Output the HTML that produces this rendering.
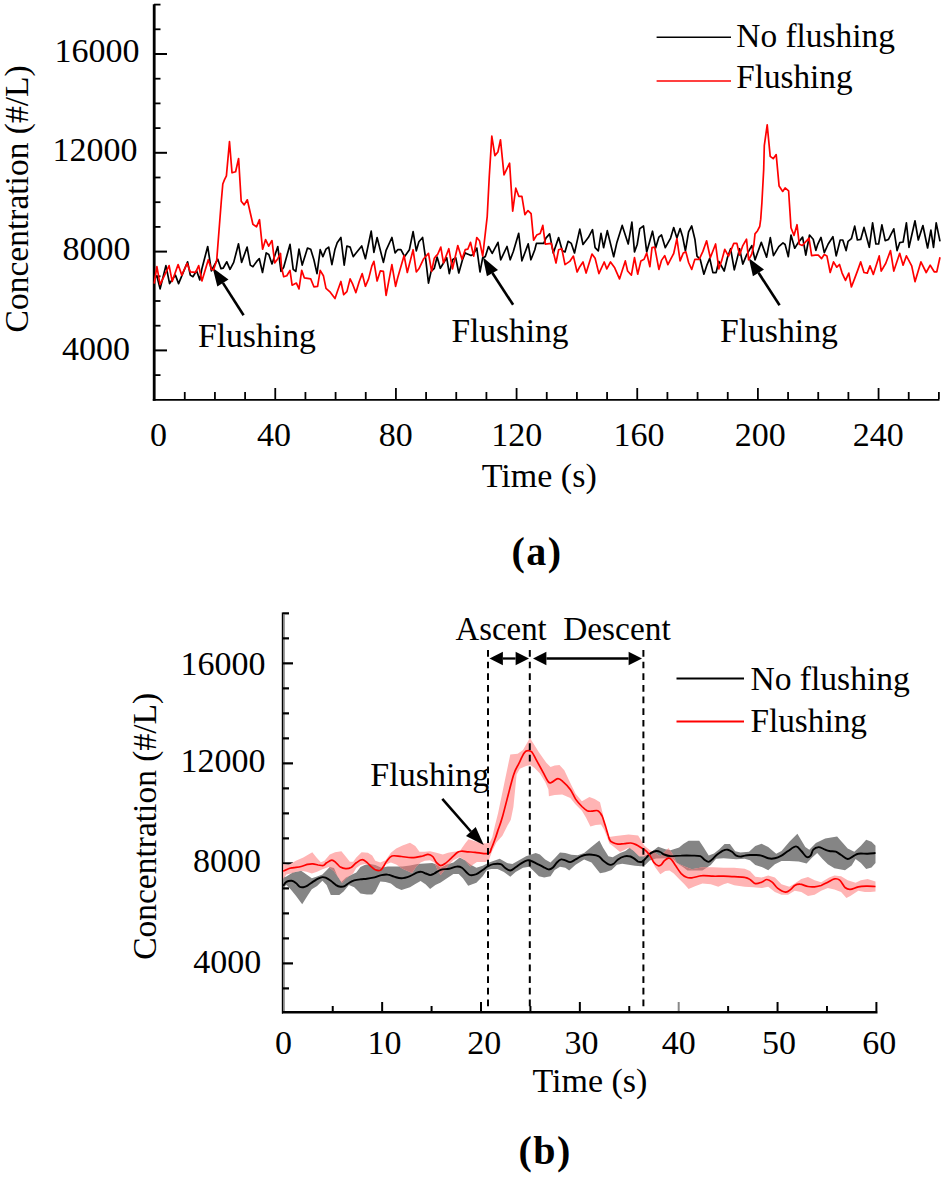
<!DOCTYPE html>
<html><head><meta charset="utf-8"><style>
html,body{margin:0;padding:0;background:#fff;width:944px;height:1178px;overflow:hidden;}
svg{display:block;}
</style></head><body>
<svg width="944" height="1178" viewBox="0 0 944 1178">
<g id="axa" stroke="#000" fill="none">
<line x1="154.2" y1="4.3" x2="154.2" y2="400.7" stroke-width="2.8"/>
<line x1="152.8" y1="399.85" x2="939.5" y2="399.85" stroke-width="1.8"/>
<line x1="154" y1="375.10" x2="160.50" y2="375.10" stroke-width="1.8"/>
<line x1="154" y1="350.40" x2="167.00" y2="350.40" stroke-width="2.0"/>
<line x1="154" y1="325.70" x2="160.50" y2="325.70" stroke-width="1.8"/>
<line x1="154" y1="301.00" x2="160.50" y2="301.00" stroke-width="1.8"/>
<line x1="154" y1="276.30" x2="160.50" y2="276.30" stroke-width="1.8"/>
<line x1="154" y1="251.60" x2="167.00" y2="251.60" stroke-width="2.0"/>
<line x1="154" y1="226.90" x2="160.50" y2="226.90" stroke-width="1.8"/>
<line x1="154" y1="202.20" x2="160.50" y2="202.20" stroke-width="1.8"/>
<line x1="154" y1="177.50" x2="160.50" y2="177.50" stroke-width="1.8"/>
<line x1="154" y1="152.80" x2="167.00" y2="152.80" stroke-width="2.0"/>
<line x1="154" y1="128.10" x2="160.50" y2="128.10" stroke-width="1.8"/>
<line x1="154" y1="103.40" x2="160.50" y2="103.40" stroke-width="1.8"/>
<line x1="154" y1="78.70" x2="160.50" y2="78.70" stroke-width="1.8"/>
<line x1="154" y1="54.00" x2="167.00" y2="54.00" stroke-width="2.0"/>
<line x1="154" y1="29.30" x2="160.50" y2="29.30" stroke-width="1.8"/>
<line x1="154" y1="4.60" x2="160.50" y2="4.60" stroke-width="1.8"/>
<line x1="184.76" y1="399" x2="184.76" y2="392.00" stroke-width="1.8"/>
<line x1="214.93" y1="399" x2="214.93" y2="392.00" stroke-width="1.8"/>
<line x1="245.09" y1="399" x2="245.09" y2="392.00" stroke-width="1.8"/>
<line x1="275.26" y1="399" x2="275.26" y2="388.00" stroke-width="1.8"/>
<line x1="305.43" y1="399" x2="305.43" y2="392.00" stroke-width="1.8"/>
<line x1="335.59" y1="399" x2="335.59" y2="392.00" stroke-width="1.8"/>
<line x1="365.75" y1="399" x2="365.75" y2="392.00" stroke-width="1.8"/>
<line x1="395.92" y1="399" x2="395.92" y2="388.00" stroke-width="1.8"/>
<line x1="426.09" y1="399" x2="426.09" y2="392.00" stroke-width="1.8"/>
<line x1="456.25" y1="399" x2="456.25" y2="392.00" stroke-width="1.8"/>
<line x1="486.41" y1="399" x2="486.41" y2="392.00" stroke-width="1.8"/>
<line x1="516.58" y1="399" x2="516.58" y2="388.00" stroke-width="1.8"/>
<line x1="546.75" y1="399" x2="546.75" y2="392.00" stroke-width="1.8"/>
<line x1="576.91" y1="399" x2="576.91" y2="392.00" stroke-width="1.8"/>
<line x1="607.08" y1="399" x2="607.08" y2="392.00" stroke-width="1.8"/>
<line x1="637.24" y1="399" x2="637.24" y2="388.00" stroke-width="1.8"/>
<line x1="667.41" y1="399" x2="667.41" y2="392.00" stroke-width="1.8"/>
<line x1="697.57" y1="399" x2="697.57" y2="392.00" stroke-width="1.8"/>
<line x1="727.74" y1="399" x2="727.74" y2="392.00" stroke-width="1.8"/>
<line x1="757.90" y1="399" x2="757.90" y2="388.00" stroke-width="1.8"/>
<line x1="788.07" y1="399" x2="788.07" y2="392.00" stroke-width="1.8"/>
<line x1="818.23" y1="399" x2="818.23" y2="392.00" stroke-width="1.8"/>
<line x1="848.40" y1="399" x2="848.40" y2="392.00" stroke-width="1.8"/>
<line x1="878.56" y1="399" x2="878.56" y2="388.00" stroke-width="1.8"/>
<line x1="908.73" y1="399" x2="908.73" y2="392.00" stroke-width="1.8"/>
<line x1="938.89" y1="399" x2="938.89" y2="392.00" stroke-width="1.8"/>
</g>
<g font-family="Liberation Serif, serif" font-size="34" fill="#000" text-anchor="middle">
<text x="97.10" y="61.7">16000</text>
<text x="95.10" y="161.0">12000</text>
<text x="96.55" y="260.2">8000</text>
<text x="96.05" y="359.9">4000</text>
<text x="158.50" y="446.0">0</text>
<text x="273.90" y="446.0">40</text>
<text x="395.85" y="446.0">80</text>
<text x="516.80" y="446.0">120</text>
<text x="638.95" y="446.0">160</text>
<text x="760.25" y="446.0">200</text>
<text x="878.25" y="446.0">240</text>
<text x="223.05" y="675.2">16000</text>
<text x="223.05" y="772.0">12000</text>
<text x="227.05" y="872.0">8000</text>
<text x="227.20" y="972.7">4000</text>
<text x="283.55" y="1054.2">0</text>
<text x="384.45" y="1054.2">10</text>
<text x="484.15" y="1053.5">20</text>
<text x="581.40" y="1053.5">30</text>
<text x="678.65" y="1053.5">40</text>
<text x="779.00" y="1054.3">50</text>
<text x="879.25" y="1054.3">60</text>
</g>
<text font-family="Liberation Serif, serif" font-size="34" x="539.25" y="487.1" text-anchor="middle">Time (s)</text>
<text font-family="Liberation Serif, serif" font-size="33.5" transform="translate(27.8,198.9) rotate(-90)" text-anchor="middle">Concentration (#/L)</text>
<text font-family="Liberation Serif, serif" font-size="40" font-weight="bold" letter-spacing="1.5" x="537.0" y="564.9" text-anchor="middle">(a)</text>
<line x1="656.6" y1="37.2" x2="731" y2="37.2" stroke="#000" stroke-width="1.5"/>
<line x1="656.6" y1="80.9" x2="731" y2="80.9" stroke="#f00" stroke-width="1.5"/>
<text font-family="Liberation Serif, serif" font-size="33.4" x="736.3" y="47.2">No flushing</text>
<text font-family="Liberation Serif, serif" font-size="33.2" x="736.3" y="87.8">Flushing</text>
<line x1="243.6" y1="315.2" x2="222.9" y2="282.9" stroke="#000" stroke-width="2.6"/><polygon points="212.6,267.8 217.3,286.5 228.5,279.4" fill="#000"/>
<line x1="513.1" y1="304.8" x2="492.4" y2="273.0" stroke="#000" stroke-width="2.6"/><polygon points="482.9,257.2 486.9,276.2 498,269.9" fill="#000"/>
<line x1="779.6" y1="305.2" x2="758.5" y2="272.8" stroke="#000" stroke-width="2.6"/><polygon points="748.9,258.3 752.9,276.2 764,269.4" fill="#000"/>
<text font-family="Liberation Serif, serif" font-size="33.7" x="197.9" y="346.5">Flushing</text>
<text font-family="Liberation Serif, serif" font-size="33.4" x="451.5" y="342.2">Flushing</text>
<text font-family="Liberation Serif, serif" font-size="33.7" x="719.9" y="341.7">Flushing</text>
<polyline points="154.8,277.2 156.9,276.1 160.1,288.9 165.9,265.6 169.6,283.6 175.4,275.1 178.6,283.6 187.6,261.8 190.3,275.1 192.9,276.7 196.6,270.8 199.8,279.9 201.9,268.7 207.7,246.5 211.4,270.8 213.0,267.7 217.8,259.2 221.0,268.7 223.1,268.2 226.8,261.8 230.0,269.3 233.7,262.4 238.5,243.8 241.6,262.4 247.1,247.1 250.3,265.1 252.9,266.7 256.7,261.4 259.3,258.7 262.5,272.5 266.2,252.9 268.8,254.5 272.0,264.0 277.8,246.5 281.0,271.4 283.7,267.2 290.0,244.4 293.2,269.3 295.8,271.4 299.0,249.2 302.2,265.1 307.5,248.1 310.7,249.2 313.9,259.8 317.0,273.6 320.2,249.7 322.9,256.6 326.0,249.2 328.7,247.1 331.9,264.6 335.0,249.2 337.2,242.8 340.9,237.5 344.2,265.1 346.9,246.0 350.1,247.1 353.2,256.6 359.1,249.2 361.7,246.0 365.4,258.7 371.2,231.2 373.9,252.4 377.1,237.5 383.4,262.4 386.1,250.3 391.9,237.5 395.1,252.9 397.7,249.7 400.9,249.7 404.6,256.6 409.4,249.7 413.1,231.7 416.3,250.8 418.9,241.8 422.6,237.5 425.8,259.8 428.5,283.1 431.1,271.4 434.3,268.3 436.9,257.7 437.1,257.1 440.3,268.3 442.9,264.0 446.7,257.7 449.3,273.6 452.5,259.8 455.7,257.7 458.8,273.0 462.5,259.8 465.2,252.9 471.0,255.6 473.1,254.5 476.8,248.1 480.0,272.0 482.7,257.7 485.3,256.6 488.5,246.5 492.2,253.4 498.0,242.3 500.7,259.8 507.0,246.5 510.2,259.8 513.4,251.3 518.7,233.3 521.9,260.8 528.2,243.9 530.9,259.8 534.8,249.8 536.4,243.4 543.8,243.4 545.9,238.1 549.6,233.9 553.3,253.0 558.6,237.6 562.3,250.8 565.0,251.9 568.1,241.3 571.3,243.4 574.5,253.0 579.8,229.1 583.0,244.5 588.3,237.6 592.5,229.7 595.1,247.7 598.3,250.8 601.0,233.4 603.6,247.7 607.3,230.7 613.7,256.7 616.9,242.4 622.2,225.4 628.2,244.0 631.9,222.2 634.5,251.9 637.2,244.5 639.8,228.6 643.5,226.0 646.7,251.9 649.4,242.4 652.5,231.2 655.7,247.7 658.9,237.1 661.5,235.0 665.3,247.7 670.6,238.1 673.7,227.5 676.9,238.1 680.1,228.6 682.7,237.1 685.4,250.8 688.6,231.8 691.7,226.0 694.9,239.2 697.0,256.1 700.2,259.3 703.9,274.2 707.1,264.6 709.7,258.3 712.9,272.6 716.1,272.6 718.8,261.4 724.2,271.0 727.4,257.7 730.6,248.7 734.3,269.9 739.6,248.7 742.8,264.1 746.5,255.1 751.8,245.6 755.0,259.9 761.3,242.4 766.6,257.2 770.3,237.6 773.5,255.6 778.8,246.6 783.0,242.9 785.1,244.5 788.3,256.7 791.0,235.0 794.7,248.2 798.4,242.4 802.6,237.1 805.8,255.1 809.5,235.0 813.2,239.2 815.9,250.3 817.6,244.7 821.0,237.4 824.3,252.6 828.2,244.0 832.9,236.7 836.2,255.9 840.2,240.0 842.8,240.0 846.1,250.6 848.1,241.3 851.4,238.7 854.7,226.1 857.4,240.0 860.7,239.4 864.0,227.4 869.3,247.3 872.6,222.8 875.9,244.0 878.6,244.0 881.9,224.8 885.2,240.7 888.5,239.4 890.5,235.4 893.8,228.8 897.1,250.6 899.7,242.7 903.1,242.0 906.4,222.8 909.0,247.3 915.0,220.8 918.3,240.0 922.9,225.5 927.6,248.0 930.9,230.1 933.5,247.3 936.2,222.8 940.0,241.3" fill="none" stroke="#000" stroke-width="1.7" stroke-linejoin="round"/>
<polyline points="154.2,283.6 156.9,266.6 160.1,284.6 169.1,265.6 172.2,281.4 178.1,264.5 181.8,275.1 187.1,263.4 190.3,271.9 195.6,272.4 198.7,265.6 201.9,280.9 208.3,259.7 211.4,269.3 213.6,269.8 216.7,260.3 221.3,201.3 222.8,184.0 224.4,179.9 226.4,175.9 229.5,141.7 232.0,172.8 235.6,171.8 238.6,158.5 241.2,201.3 244.2,204.9 247.3,199.8 252.9,224.3 256.5,226.8 259.5,219.7 262.6,249.2 265.6,239.6 268.7,246.2 271.8,240.6 272.0,240.7 274.7,263.0 277.8,258.7 280.5,253.4 281.5,267.2 283.7,276.7 286.8,275.7 290.0,270.4 292.1,285.2 296.4,283.1 299.0,288.9 301.7,270.4 304.3,277.8 310.7,278.9 313.9,286.8 317.6,286.3 320.2,270.4 323.4,275.7 326.0,288.4 329.7,291.6 335.0,298.5 337.7,290.5 340.9,281.5 343.7,294.7 346.9,291.6 350.1,278.9 352.7,284.2 355.9,292.6 359.1,282.0 362.2,273.6 365.4,286.3 368.6,278.9 371.8,266.1 373.9,261.4 377.1,281.0 380.3,270.9 383.4,271.4 386.1,295.3 391.9,264.6 395.6,286.3 397.7,277.8 404.1,255.6 407.3,272.5 413.1,249.7 416.3,272.0 418.9,268.8 423.7,258.7 428.5,253.4 431.6,271.4 434.3,258.2 436.4,255.6 437.6,254.5 440.8,247.1 443.5,263.0 448.8,248.7 452.5,268.8 457.8,245.5 462.0,259.3 465.2,249.7 467.8,249.2 470.5,242.3 473.7,256.1 476.8,237.5 479.5,240.7 482.7,256.1 487.2,216.7 489.3,176.0 491.8,136.2 494.9,155.6 497.9,152.0 500.5,139.8 504.0,174.9 509.6,163.2 512.7,211.1 515.8,188.2 518.8,196.3 521.9,196.3 524.9,214.7 528.0,210.6 531.1,213.7 533.6,240.2 536.7,235.1 540.2,233.5 542.8,225.4 545.3,244.2 551.2,243.4 556.0,263.0 558.6,249.8 561.8,248.7 565.0,264.6 569.7,261.4 573.4,256.1 577.1,272.0 579.8,266.7 583.0,262.0 586.1,273.1 592.0,254.0 595.1,258.3 598.9,273.6 604.2,262.0 606.8,268.9 610.5,262.0 614.7,267.8 619.5,278.9 625.3,260.9 627.6,271.0 631.4,275.2 634.5,257.7 637.7,274.2 640.9,260.9 644.1,259.3 646.7,253.0 649.9,266.7 652.0,247.7 654.7,247.1 658.9,269.4 661.5,260.4 664.7,255.6 667.9,264.6 670.6,259.3 673.7,253.5 676.9,238.7 680.1,260.9 683.3,253.0 685.9,251.9 688.6,262.5 691.7,269.4 694.9,259.3 699.2,259.3 702.9,251.4 706.6,240.8 710.3,257.7 715.6,244.0 718.8,268.9 721.9,259.9 724.8,249.3 728.5,256.1 733.8,243.4 736.9,243.4 739.6,255.1 742.8,245.6 746.5,239.2 748.6,259.9 751.8,254.0 753.9,244.5 755.0,233.9 757.6,230.7 759.7,226.5 760.7,219.4 761.9,202.7 763.7,169.4 764.3,145.7 767.2,124.9 770.2,156.4 773.2,158.7 776.2,154.6 779.1,186.1 782.7,191.4 785.1,187.9 788.6,190.8 791.0,227.7 794.0,235.4 797.0,224.7 799.3,244.3 802.3,245.5 809.0,238.1 811.6,255.6 815.3,255.1 818.3,255.2 821.6,258.6 824.3,254.6 826.9,255.9 830.2,272.5 833.5,261.9 836.8,267.2 839.5,264.5 842.1,273.1 845.5,280.4 848.8,273.1 851.4,287.0 854.7,278.4 857.4,271.1 860.7,261.9 864.0,272.5 867.3,273.1 870.0,265.8 873.3,274.4 879.2,255.9 881.2,271.1 885.8,263.2 890.5,250.6 893.8,271.1 899.7,253.3 903.1,265.2 906.4,255.9 911.7,265.8 915.0,281.7 920.9,261.9 926.2,272.5 930.2,265.2 934.2,271.8 936.8,271.8 940.0,257.2" fill="none" stroke="#f00" stroke-width="1.7" stroke-linejoin="round"/>
<g id="axb" stroke="#000" fill="none">
<rect x="281.8" y="612.4" width="1.2" height="401.2" fill="#000" stroke="none"/>
<rect x="283.0" y="614.5" width="1.8" height="397" fill="#888" stroke="none"/>
<line x1="282" y1="1012.3" x2="877.5" y2="1012.3" stroke-width="2.5"/>
<line x1="283" y1="988.40" x2="289.00" y2="988.40" stroke-width="2.2"/>
<line x1="283" y1="963.40" x2="293.00" y2="963.40" stroke-width="2.2"/>
<line x1="283" y1="938.40" x2="289.00" y2="938.40" stroke-width="2.2"/>
<line x1="283" y1="913.39" x2="289.00" y2="913.39" stroke-width="2.2"/>
<line x1="283" y1="888.39" x2="289.00" y2="888.39" stroke-width="2.2"/>
<line x1="283" y1="863.38" x2="293.00" y2="863.38" stroke-width="2.2"/>
<line x1="283" y1="838.38" x2="289.00" y2="838.38" stroke-width="2.2"/>
<line x1="283" y1="813.38" x2="289.00" y2="813.38" stroke-width="2.2"/>
<line x1="283" y1="788.37" x2="289.00" y2="788.37" stroke-width="2.2"/>
<line x1="283" y1="763.37" x2="293.00" y2="763.37" stroke-width="2.2"/>
<line x1="283" y1="738.36" x2="289.00" y2="738.36" stroke-width="2.2"/>
<line x1="283" y1="713.36" x2="289.00" y2="713.36" stroke-width="2.2"/>
<line x1="283" y1="688.36" x2="289.00" y2="688.36" stroke-width="2.2"/>
<line x1="283" y1="663.35" x2="293.00" y2="663.35" stroke-width="2.2"/>
<line x1="283" y1="638.35" x2="289.00" y2="638.35" stroke-width="2.2"/>
<line x1="283" y1="613.34" x2="289.00" y2="613.34" stroke-width="2.2"/>
<line x1="332.73" y1="1011" x2="332.73" y2="1006.00" stroke-width="2"/>
<line x1="382.15" y1="1011" x2="382.15" y2="1002.00" stroke-width="2"/>
<line x1="431.58" y1="1011" x2="431.58" y2="1006.00" stroke-width="2"/>
<line x1="481.00" y1="1011" x2="481.00" y2="1002.00" stroke-width="2"/>
<line x1="530.42" y1="1011" x2="530.42" y2="1006.00" stroke-width="2"/>
<line x1="579.85" y1="1011" x2="579.85" y2="1002.00" stroke-width="2"/>
<line x1="629.27" y1="1011" x2="629.27" y2="1006.00" stroke-width="2"/>
<line x1="678.70" y1="1011" x2="678.70" y2="1002.00" stroke-width="2" stroke="#888"/>
<line x1="728.12" y1="1011" x2="728.12" y2="1006.00" stroke-width="2"/>
<line x1="777.55" y1="1011" x2="777.55" y2="1002.00" stroke-width="2"/>
<line x1="826.97" y1="1011" x2="826.97" y2="1006.00" stroke-width="2"/>
<line x1="876.40" y1="1011" x2="876.40" y2="1002.00" stroke-width="2"/>
</g>
<text font-family="Liberation Serif, serif" font-size="34" x="589.9" y="1091.6" text-anchor="middle">Time (s)</text>
<text font-family="Liberation Serif, serif" font-size="33.5" transform="translate(155.7,826.35) rotate(-90)" text-anchor="middle">Concentration (#/L)</text>
<text font-family="Liberation Serif, serif" font-size="40" font-weight="bold" letter-spacing="1.5" x="545.2" y="1163.9" text-anchor="middle">(b)</text>
<line x1="676.5" y1="678.4" x2="744" y2="678.4" stroke="#000" stroke-width="2"/>
<line x1="676.5" y1="721.6" x2="744" y2="721.6" stroke="#f00" stroke-width="2"/>
<text font-family="Liberation Serif, serif" font-size="33.6" x="750.4" y="689.9">No flushing</text>
<text font-family="Liberation Serif, serif" font-size="33.3" x="750.4" y="732.1">Flushing</text>
<defs><clipPath id="gclip"><polygon points="283.2,877.7 286.4,876.6 292.7,872.4 301.2,870.8 306.5,874.5 311.8,878.2 317.1,876.6 322.4,874.5 329.8,867.1 334.0,868.1 337.2,875.6 341.4,881.9 345.7,877.7 352.0,874.5 356.3,872.4 360.5,867.1 364.7,865.0 370.0,863.9 375.3,865.0 381.4,867.7 387.7,866.6 396.2,866.6 402.5,866.6 410.0,865.6 417.4,864.0 424.8,863.4 432.2,862.9 436.4,864.5 440.7,867.7 447.0,864.5 453.4,862.4 459.7,857.6 465.0,860.3 470.3,864.5 476.4,867.8 482.7,865.7 489.1,862.5 499.7,858.8 507.1,863.1 512.4,864.1 517.7,861.0 526.1,856.2 535.7,853.0 539.9,854.6 545.2,859.4 550.5,862.5 554.7,858.3 560.0,852.5 565.3,853.0 571.4,854.7 577.7,855.2 584.1,853.1 590.4,847.8 599.4,840.4 603.1,847.8 608.4,856.3 612.7,857.3 620.1,853.1 625.4,851.0 629.6,847.8 633.9,851.0 639.2,856.3 643.4,856.3 648.7,854.2 654.0,849.9 658.2,846.7 665.3,849.2 670.6,850.3 679.1,847.6 683.3,843.9 688.6,840.7 699.2,840.7 703.4,847.1 708.7,855.6 714.0,853.4 719.3,849.2 724.6,843.9 729.9,843.9 735.2,851.3 740.5,852.4 749.0,851.8 755.3,846.0 761.6,843.8 768.2,847.1 776.2,853.7 781.5,851.0 789.4,841.8 797.4,833.8 805.3,847.1 809.3,849.7 815.9,843.1 825.2,838.5 837.1,836.5 842.4,842.4 847.7,848.4 854.3,851.7 860.9,845.8 866.2,839.8 871.5,841.8 875.5,845.8 875.5,863.0 871.5,867.6 866.2,868.9 860.9,863.0 855.6,859.0 851.7,865.6 845.0,870.2 834.4,868.3 827.8,864.3 822.5,859.0 817.2,853.0 811.9,857.7 806.6,863.6 798.7,861.6 789.4,861.0 781.5,861.0 774.9,864.3 768.2,870.2 761.6,866.9 755.3,865.1 750.0,860.3 744.7,858.7 736.3,859.3 729.9,858.7 723.6,858.2 716.1,858.7 710.8,865.1 706.6,867.7 702.4,870.4 687.5,870.4 683.3,867.2 676.9,863.0 672.7,858.7 666.4,858.2 656.1,858.4 649.7,860.5 645.5,864.7 641.3,866.3 634.9,865.8 628.6,864.7 622.2,863.7 616.9,864.7 611.6,870.0 605.3,872.2 600.0,873.2 591.5,862.6 584.1,859.4 575.6,864.7 569.2,870.6 565.3,867.8 560.0,866.8 554.7,870.0 550.5,876.3 544.2,877.4 538.9,876.3 533.6,871.0 529.3,866.8 523.0,867.8 515.6,872.1 510.3,876.8 503.9,872.1 497.5,868.9 491.2,868.9 486.9,870.0 482.7,876.3 476.4,882.7 468.2,885.7 462.9,878.3 458.7,874.0 453.4,874.0 447.0,878.3 440.7,882.5 435.4,885.1 430.1,888.9 425.8,884.6 420.6,880.9 415.3,884.1 410.0,887.3 401.5,889.9 396.2,887.8 390.9,883.6 385.6,882.0 380.3,881.4 375.3,891.4 372.2,894.6 366.9,894.6 360.5,893.6 354.2,887.2 348.9,885.1 343.6,891.4 339.3,895.1 330.8,895.1 326.6,885.1 322.4,880.8 317.1,886.1 311.8,889.3 307.5,895.7 302.2,904.2 295.9,895.7 290.6,889.3 286.4,885.1 283.2,887.2"/></clipPath></defs>
<polygon points="283.2,877.7 286.4,876.6 292.7,872.4 301.2,870.8 306.5,874.5 311.8,878.2 317.1,876.6 322.4,874.5 329.8,867.1 334.0,868.1 337.2,875.6 341.4,881.9 345.7,877.7 352.0,874.5 356.3,872.4 360.5,867.1 364.7,865.0 370.0,863.9 375.3,865.0 381.4,867.7 387.7,866.6 396.2,866.6 402.5,866.6 410.0,865.6 417.4,864.0 424.8,863.4 432.2,862.9 436.4,864.5 440.7,867.7 447.0,864.5 453.4,862.4 459.7,857.6 465.0,860.3 470.3,864.5 476.4,867.8 482.7,865.7 489.1,862.5 499.7,858.8 507.1,863.1 512.4,864.1 517.7,861.0 526.1,856.2 535.7,853.0 539.9,854.6 545.2,859.4 550.5,862.5 554.7,858.3 560.0,852.5 565.3,853.0 571.4,854.7 577.7,855.2 584.1,853.1 590.4,847.8 599.4,840.4 603.1,847.8 608.4,856.3 612.7,857.3 620.1,853.1 625.4,851.0 629.6,847.8 633.9,851.0 639.2,856.3 643.4,856.3 648.7,854.2 654.0,849.9 658.2,846.7 665.3,849.2 670.6,850.3 679.1,847.6 683.3,843.9 688.6,840.7 699.2,840.7 703.4,847.1 708.7,855.6 714.0,853.4 719.3,849.2 724.6,843.9 729.9,843.9 735.2,851.3 740.5,852.4 749.0,851.8 755.3,846.0 761.6,843.8 768.2,847.1 776.2,853.7 781.5,851.0 789.4,841.8 797.4,833.8 805.3,847.1 809.3,849.7 815.9,843.1 825.2,838.5 837.1,836.5 842.4,842.4 847.7,848.4 854.3,851.7 860.9,845.8 866.2,839.8 871.5,841.8 875.5,845.8 875.5,863.0 871.5,867.6 866.2,868.9 860.9,863.0 855.6,859.0 851.7,865.6 845.0,870.2 834.4,868.3 827.8,864.3 822.5,859.0 817.2,853.0 811.9,857.7 806.6,863.6 798.7,861.6 789.4,861.0 781.5,861.0 774.9,864.3 768.2,870.2 761.6,866.9 755.3,865.1 750.0,860.3 744.7,858.7 736.3,859.3 729.9,858.7 723.6,858.2 716.1,858.7 710.8,865.1 706.6,867.7 702.4,870.4 687.5,870.4 683.3,867.2 676.9,863.0 672.7,858.7 666.4,858.2 656.1,858.4 649.7,860.5 645.5,864.7 641.3,866.3 634.9,865.8 628.6,864.7 622.2,863.7 616.9,864.7 611.6,870.0 605.3,872.2 600.0,873.2 591.5,862.6 584.1,859.4 575.6,864.7 569.2,870.6 565.3,867.8 560.0,866.8 554.7,870.0 550.5,876.3 544.2,877.4 538.9,876.3 533.6,871.0 529.3,866.8 523.0,867.8 515.6,872.1 510.3,876.8 503.9,872.1 497.5,868.9 491.2,868.9 486.9,870.0 482.7,876.3 476.4,882.7 468.2,885.7 462.9,878.3 458.7,874.0 453.4,874.0 447.0,878.3 440.7,882.5 435.4,885.1 430.1,888.9 425.8,884.6 420.6,880.9 415.3,884.1 410.0,887.3 401.5,889.9 396.2,887.8 390.9,883.6 385.6,882.0 380.3,881.4 375.3,891.4 372.2,894.6 366.9,894.6 360.5,893.6 354.2,887.2 348.9,885.1 343.6,891.4 339.3,895.1 330.8,895.1 326.6,885.1 322.4,880.8 317.1,886.1 311.8,889.3 307.5,895.7 302.2,904.2 295.9,895.7 290.6,889.3 286.4,885.1 283.2,887.2" fill="#858585"/>
<polygon points="283.2,863.9 288.5,865.0 295.9,860.7 303.3,857.5 312.3,852.2 316.5,857.5 320.8,862.3 324.5,860.7 329.8,854.4 335.1,852.2 341.4,851.2 345.7,856.5 349.9,861.8 353.1,861.8 356.3,857.5 361.6,852.2 367.9,852.8 372.2,855.4 375.3,860.7 380.3,862.4 385.6,860.3 390.9,852.8 396.2,848.6 402.5,845.4 410.0,842.8 415.3,846.0 419.5,851.8 424.8,851.8 430.1,851.2 436.4,852.8 442.8,854.4 448.1,852.8 453.4,851.8 459.7,851.2 465.1,843.4 468.5,839.2 476.9,841.7 485.4,843.4 489.7,842.5 492.2,837.5 494.7,826.4 498.1,812.9 510.3,754.4 517.7,753.8 523.0,750.1 529.9,737.9 533.6,743.8 538.9,752.2 546.3,762.8 550.5,767.1 554.7,765.5 559.5,765.0 564.3,770.3 571.4,785.3 575.6,793.8 581.9,801.2 589.4,796.9 594.7,799.1 600.0,802.2 603.1,815.0 607.4,837.2 615.8,836.1 628.6,834.6 638.1,835.6 641.3,840.4 644.4,845.7 649.7,849.9 655.0,853.1 660.3,856.3 668.5,848.1 671.7,852.4 676.9,863.0 681.2,865.1 686.5,867.2 691.8,869.3 702.4,867.2 713.0,867.2 723.6,867.7 734.2,867.7 744.7,868.8 750.0,870.9 755.3,876.7 761.6,877.5 768.2,875.5 774.9,877.5 781.5,884.2 789.4,886.8 794.7,883.5 801.3,878.9 808.0,876.9 814.6,880.2 821.2,882.2 829.2,877.5 834.4,875.5 841.1,876.2 847.7,880.2 855.6,882.8 860.9,880.2 867.6,878.9 875.5,881.5 875.5,891.4 870.2,892.1 864.9,892.1 858.3,890.8 850.3,896.1 846.4,898.1 841.1,892.1 834.4,889.4 827.8,888.1 821.2,890.8 814.6,894.7 808.0,896.1 801.3,892.1 794.7,890.8 788.1,894.7 781.5,894.7 774.9,892.1 768.2,886.8 761.6,888.1 753.2,887.3 744.7,886.8 734.2,885.2 727.8,883.1 723.6,884.2 718.3,886.8 710.8,884.2 702.4,883.6 695.0,886.3 688.6,888.9 684.4,884.2 679.1,878.9 673.8,873.6 669.5,870.4 665.3,870.9 660.3,874.3 655.0,866.9 649.7,856.3 643.4,856.3 639.2,856.3 632.8,849.9 628.6,847.8 624.3,849.9 620.1,852.0 613.7,846.7 609.5,843.6 604.2,829.8 601.0,824.5 595.7,825.0 590.4,826.6 586.2,818.1 581.9,810.7 575.6,804.4 570.3,798.0 562.2,794.6 554.7,795.1 548.9,796.2 548.4,789.3 545.2,781.9 539.9,773.4 534.6,768.1 530.4,765.0 526.1,766.0 519.8,768.7 516.6,774.5 515.1,790.0 513.4,806.9 510.8,819.7 507.5,825.6 502.4,835.8 496.4,842.5 492.2,851.0 488.8,860.3 485.4,862.0 476.9,862.0 470.3,866.6 465.0,860.3 459.7,857.1 453.4,860.3 448.1,865.6 443.9,870.8 440.7,875.1 437.5,869.8 434.3,862.4 430.1,860.3 424.8,860.8 420.6,862.4 416.3,866.6 412.1,873.0 402.5,868.7 396.2,864.5 390.9,862.4 385.6,864.5 381.4,869.8 373.2,868.1 369.0,865.0 364.7,863.9 360.5,865.0 356.3,868.1 353.1,873.4 349.9,875.6 345.7,878.7 342.0,883.0 339.3,878.7 334.0,871.3 328.7,867.1 322.4,869.2 317.1,871.8 311.8,873.4 306.5,871.8 301.2,870.8 295.9,871.8 290.6,873.4 286.4,874.5 283.2,878.7" fill="#ffb4b4"/>
<polygon points="283.2,863.9 288.5,865.0 295.9,860.7 303.3,857.5 312.3,852.2 316.5,857.5 320.8,862.3 324.5,860.7 329.8,854.4 335.1,852.2 341.4,851.2 345.7,856.5 349.9,861.8 353.1,861.8 356.3,857.5 361.6,852.2 367.9,852.8 372.2,855.4 375.3,860.7 380.3,862.4 385.6,860.3 390.9,852.8 396.2,848.6 402.5,845.4 410.0,842.8 415.3,846.0 419.5,851.8 424.8,851.8 430.1,851.2 436.4,852.8 442.8,854.4 448.1,852.8 453.4,851.8 459.7,851.2 465.1,843.4 468.5,839.2 476.9,841.7 485.4,843.4 489.7,842.5 492.2,837.5 494.7,826.4 498.1,812.9 510.3,754.4 517.7,753.8 523.0,750.1 529.9,737.9 533.6,743.8 538.9,752.2 546.3,762.8 550.5,767.1 554.7,765.5 559.5,765.0 564.3,770.3 571.4,785.3 575.6,793.8 581.9,801.2 589.4,796.9 594.7,799.1 600.0,802.2 603.1,815.0 607.4,837.2 615.8,836.1 628.6,834.6 638.1,835.6 641.3,840.4 644.4,845.7 649.7,849.9 655.0,853.1 660.3,856.3 668.5,848.1 671.7,852.4 676.9,863.0 681.2,865.1 686.5,867.2 691.8,869.3 702.4,867.2 713.0,867.2 723.6,867.7 734.2,867.7 744.7,868.8 750.0,870.9 755.3,876.7 761.6,877.5 768.2,875.5 774.9,877.5 781.5,884.2 789.4,886.8 794.7,883.5 801.3,878.9 808.0,876.9 814.6,880.2 821.2,882.2 829.2,877.5 834.4,875.5 841.1,876.2 847.7,880.2 855.6,882.8 860.9,880.2 867.6,878.9 875.5,881.5 875.5,891.4 870.2,892.1 864.9,892.1 858.3,890.8 850.3,896.1 846.4,898.1 841.1,892.1 834.4,889.4 827.8,888.1 821.2,890.8 814.6,894.7 808.0,896.1 801.3,892.1 794.7,890.8 788.1,894.7 781.5,894.7 774.9,892.1 768.2,886.8 761.6,888.1 753.2,887.3 744.7,886.8 734.2,885.2 727.8,883.1 723.6,884.2 718.3,886.8 710.8,884.2 702.4,883.6 695.0,886.3 688.6,888.9 684.4,884.2 679.1,878.9 673.8,873.6 669.5,870.4 665.3,870.9 660.3,874.3 655.0,866.9 649.7,856.3 643.4,856.3 639.2,856.3 632.8,849.9 628.6,847.8 624.3,849.9 620.1,852.0 613.7,846.7 609.5,843.6 604.2,829.8 601.0,824.5 595.7,825.0 590.4,826.6 586.2,818.1 581.9,810.7 575.6,804.4 570.3,798.0 562.2,794.6 554.7,795.1 548.9,796.2 548.4,789.3 545.2,781.9 539.9,773.4 534.6,768.1 530.4,765.0 526.1,766.0 519.8,768.7 516.6,774.5 515.1,790.0 513.4,806.9 510.8,819.7 507.5,825.6 502.4,835.8 496.4,842.5 492.2,851.0 488.8,860.3 485.4,862.0 476.9,862.0 470.3,866.6 465.0,860.3 459.7,857.1 453.4,860.3 448.1,865.6 443.9,870.8 440.7,875.1 437.5,869.8 434.3,862.4 430.1,860.3 424.8,860.8 420.6,862.4 416.3,866.6 412.1,873.0 402.5,868.7 396.2,864.5 390.9,862.4 385.6,864.5 381.4,869.8 373.2,868.1 369.0,865.0 364.7,863.9 360.5,865.0 356.3,868.1 353.1,873.4 349.9,875.6 345.7,878.7 342.0,883.0 339.3,878.7 334.0,871.3 328.7,867.1 322.4,869.2 317.1,871.8 311.8,873.4 306.5,871.8 301.2,870.8 295.9,871.8 290.6,873.4 286.4,874.5 283.2,878.7" fill="#c27c7c" clip-path="url(#gclip)"/>
<path d="M283.2,886.1 C283.7,885.4 284.9,882.8 286.4,881.9 C287.8,881.0 290.1,880.7 291.7,880.8 C293.2,881.0 294.6,882.0 295.9,883.0 C297.2,883.9 298.4,886.0 299.6,886.7 C300.8,887.4 302.0,887.4 303.3,887.2 C304.6,887.0 306.0,886.5 307.5,885.6 C309.1,884.7 311.1,883.1 312.8,881.9 C314.6,880.8 316.5,879.5 318.1,878.7 C319.7,877.9 321.1,877.3 322.4,877.1 C323.6,877.0 324.1,877.1 325.6,877.7 C327.0,878.3 329.1,879.6 330.8,880.8 C332.6,882.1 334.6,884.1 336.1,885.1 C337.7,886.1 339.0,886.5 340.4,886.7 C341.8,886.9 343.2,886.8 344.6,886.1 C346.0,885.5 347.3,883.9 348.9,883.0 C350.4,882.0 352.2,880.9 354.2,880.3 C356.1,879.7 358.4,879.5 360.5,879.3 C362.6,879.0 364.7,879.0 366.9,878.7 C369.0,878.5 370.8,878.3 373.2,877.7 C375.6,877.1 378.9,875.6 381.4,875.1 C383.8,874.6 385.6,874.3 387.7,874.6 C389.8,874.8 391.8,876.1 394.1,876.7 C396.4,877.3 398.8,878.4 401.5,878.3 C404.1,878.2 407.3,877.1 410.0,876.1 C412.6,875.2 415.4,873.1 417.4,872.4 C419.3,871.7 420.2,871.7 421.6,871.9 C423.0,872.1 424.4,873.0 425.8,873.5 C427.3,874.0 428.7,875.1 430.1,875.1 C431.5,875.1 432.6,874.4 434.3,873.5 C436.1,872.6 438.2,870.6 440.7,869.8 C443.1,869.0 446.5,869.3 449.2,868.7 C451.8,868.2 454.4,866.8 456.6,866.6 C458.7,866.4 460.1,866.6 461.9,867.7 C463.6,868.7 465.7,871.7 467.2,873.0 C468.6,874.2 468.8,874.9 470.3,875.1 C471.9,875.3 474.3,875.0 476.4,874.2 C478.4,873.3 480.8,871.3 482.7,870.0 C484.7,868.6 486.2,867.2 488.0,866.2 C489.8,865.3 491.2,864.5 493.3,864.1 C495.4,863.8 498.8,863.5 500.7,864.1 C502.7,864.7 503.4,866.8 505.0,867.8 C506.5,868.9 508.5,870.6 510.3,870.5 C512.0,870.4 513.8,868.5 515.6,867.3 C517.3,866.2 518.9,864.7 520.8,863.6 C522.8,862.5 525.4,860.9 527.2,860.4 C529.0,860.0 529.9,860.4 531.4,861.0 C533.0,861.5 534.8,862.6 536.7,863.6 C538.7,864.6 541.2,865.8 543.1,866.8 C545.0,867.8 546.8,869.3 548.4,869.4 C550.0,869.6 551.2,869.0 552.6,867.8 C554.0,866.7 555.5,864.0 556.9,862.5 C558.3,861.1 559.7,859.7 561.1,859.4 C562.5,859.0 563.8,860.0 565.3,860.4 C566.9,860.9 568.6,862.3 570.3,862.1 C572.0,861.9 573.8,860.4 575.6,859.4 C577.4,858.5 579.1,857.1 580.9,856.3 C582.7,855.5 584.2,854.9 586.2,854.7 C588.1,854.4 590.4,854.4 592.5,854.7 C594.7,854.9 597.1,855.3 598.9,856.3 C600.7,857.2 601.4,859.1 603.1,860.5 C604.9,861.9 607.7,864.2 609.5,864.7 C611.3,865.3 612.3,864.6 613.7,863.7 C615.1,862.8 616.2,860.7 618.0,859.4 C619.7,858.2 622.4,856.8 624.3,856.3 C626.3,855.7 628.0,855.9 629.6,856.3 C631.2,856.6 632.4,857.5 633.9,858.4 C635.3,859.3 636.7,861.0 638.1,861.6 C639.5,862.1 640.9,862.3 642.3,861.6 C643.7,860.9 645.2,858.7 646.6,857.3 C648.0,855.9 649.2,854.2 650.8,853.1 C652.4,852.0 654.5,851.2 656.1,851.0 C657.7,850.8 659.0,851.4 660.3,852.0 C661.7,852.6 662.5,853.8 664.2,854.5 C665.9,855.2 667.8,855.9 670.6,856.1 C673.4,856.3 677.7,855.6 681.2,855.6 C684.7,855.5 688.6,855.5 691.8,855.6 C695.0,855.6 698.1,855.4 700.3,856.1 C702.4,856.8 703.1,858.8 704.5,859.8 C705.9,860.8 707.3,862.1 708.7,861.9 C710.1,861.7 711.6,860.0 713.0,858.7 C714.4,857.5 715.4,855.9 717.2,854.5 C719.0,853.1 721.8,851.0 723.6,850.3 C725.3,849.5 726.4,849.5 727.8,849.7 C729.2,850.0 730.6,850.9 732.0,851.8 C733.4,852.8 734.9,854.8 736.3,855.6 C737.7,856.3 739.1,856.6 740.5,856.6 C741.9,856.6 743.2,855.8 744.7,855.6 C746.3,855.3 748.3,855.1 750.0,855.0 C751.8,854.9 753.4,854.9 755.3,855.0 C757.3,855.1 759.5,855.1 761.6,855.7 C763.8,856.2 766.0,857.9 768.2,858.3 C770.4,858.8 772.7,858.8 774.9,858.3 C777.1,857.9 779.3,856.9 781.5,855.7 C783.7,854.5 785.7,852.6 788.1,851.0 C790.5,849.5 793.8,846.4 796.0,846.4 C798.3,846.4 799.6,849.3 801.3,851.0 C803.1,852.8 805.1,856.2 806.6,857.0 C808.2,857.8 809.5,856.9 810.6,855.7 C811.7,854.5 811.9,851.2 813.3,849.7 C814.6,848.3 816.8,847.2 818.6,847.1 C820.3,847.0 822.1,848.4 823.9,849.1 C825.6,849.7 827.2,850.6 829.2,851.0 C831.1,851.5 833.8,851.0 835.8,851.7 C837.8,852.4 839.1,853.8 841.1,855.0 C843.1,856.2 845.7,858.8 847.7,859.0 C849.7,859.2 851.2,857.2 853.0,856.3 C854.8,855.5 855.9,854.1 858.3,853.7 C860.7,853.3 864.7,853.8 867.6,853.7 C870.4,853.6 874.2,853.1 875.5,853.0" fill="none" stroke="#000" stroke-width="1.9" stroke-linejoin="round"/>
<path d="M283.2,871.3 C284.1,870.9 286.7,869.3 288.5,868.7 C290.2,868.0 291.7,868.0 293.8,867.6 C295.9,867.3 298.9,867.1 301.2,866.5 C303.5,866.0 305.6,864.9 307.5,864.4 C309.5,864.0 311.1,863.8 312.8,863.9 C314.6,864.0 316.4,864.7 318.1,865.0 C319.9,865.2 322.0,865.8 323.4,865.5 C324.8,865.1 325.2,863.7 326.6,862.8 C328.0,862.0 330.3,860.2 331.9,860.2 C333.5,860.2 334.7,861.7 336.1,862.8 C337.6,864.0 338.8,866.1 340.4,867.1 C342.0,868.0 343.9,868.6 345.7,868.7 C347.4,868.8 349.2,868.6 351.0,867.6 C352.7,866.6 354.4,864.2 356.3,862.8 C358.1,861.5 360.3,859.7 362.1,859.7 C363.9,859.6 365.4,861.2 366.9,862.3 C368.4,863.5 369.7,865.3 371.1,866.5 C372.5,867.8 373.8,869.1 375.3,869.7 C376.9,870.4 378.9,870.8 380.3,870.3 C381.7,869.8 382.4,868.1 383.5,866.6 C384.5,865.1 385.2,863.1 386.7,861.3 C388.1,859.5 389.5,856.8 391.9,856.0 C394.4,855.2 398.1,856.3 401.5,856.5 C404.8,856.8 408.5,857.7 412.1,857.6 C415.6,857.5 420.0,856.5 422.7,856.0 C425.3,855.5 426.3,854.3 428.0,854.4 C429.6,854.5 431.3,855.2 432.7,856.5 C434.1,857.9 435.1,860.9 436.4,862.4 C437.8,863.9 439.1,865.5 440.7,865.6 C442.3,865.6 444.2,864.1 446.0,862.9 C447.7,861.7 449.3,859.9 451.3,858.1 C453.2,856.4 455.9,853.5 457.6,852.3 C459.4,851.2 460.1,851.3 461.9,851.2 C463.6,851.2 466.0,851.6 468.2,851.8 C470.4,852.0 471.6,852.0 475.0,852.3 C478.4,852.6 485.7,854.2 488.4,853.6 C491.1,852.9 490.3,850.7 491.4,848.5 C492.4,846.2 493.6,843.1 494.7,840.0 C495.9,836.9 496.9,833.6 498.1,829.8 C499.4,826.0 499.8,826.2 502.4,817.1 C504.9,808.1 510.7,784.4 513.4,775.6 C516.2,766.7 517.0,767.6 518.7,763.9 C520.5,760.2 522.5,755.5 524.0,753.3 C525.5,751.1 526.4,750.8 527.7,750.7 C529.1,750.5 530.5,750.6 532.0,752.2 C533.5,753.9 534.9,757.4 536.7,760.7 C538.6,764.1 541.2,768.8 543.1,772.4 C545.0,775.9 547.0,780.2 548.4,781.9 C549.8,783.6 550.0,783.0 551.6,782.4 C553.2,781.9 556.0,778.8 557.9,778.7 C559.9,778.6 561.2,780.1 563.2,781.9 C565.3,783.7 568.2,786.7 570.3,789.5 C572.4,792.4 573.7,796.2 575.6,799.1 C577.5,801.9 580.0,804.5 581.9,806.5 C583.9,808.4 585.7,809.9 587.2,810.7 C588.8,811.5 589.7,811.2 591.5,811.2 C593.2,811.2 596.1,809.9 597.8,810.7 C599.6,811.5 600.8,813.5 602.1,816.0 C603.3,818.5 604.0,821.7 605.3,825.6 C606.5,829.4 608.3,836.5 609.5,839.3 C610.7,842.1 611.3,841.7 612.7,842.5 C614.1,843.3 616.0,843.9 618.0,844.1 C619.9,844.3 622.2,843.7 624.3,843.6 C626.4,843.4 628.7,842.9 630.7,843.0 C632.6,843.2 634.2,843.8 636.0,844.6 C637.7,845.4 639.7,846.8 641.3,847.8 C642.9,848.8 644.1,849.2 645.5,850.4 C646.9,851.7 648.3,853.2 649.7,855.2 C651.2,857.2 652.6,860.9 654.0,862.6 C655.4,864.4 657.0,865.5 658.2,865.8 C659.5,866.2 660.4,865.6 661.4,864.7 C662.4,863.9 663.1,861.9 664.2,860.8 C665.4,859.8 667.2,858.4 668.5,858.2 C669.7,858.0 670.4,858.5 671.7,859.8 C672.9,861.1 674.3,863.8 675.9,866.1 C677.5,868.4 679.4,871.7 681.2,873.6 C683.0,875.4 684.7,876.6 686.5,877.3 C688.2,878.0 689.1,878.1 691.8,877.8 C694.4,877.5 698.8,875.9 702.4,875.7 C705.9,875.4 709.4,876.1 713.0,876.2 C716.5,876.3 720.0,876.1 723.6,876.2 C727.1,876.3 730.6,876.6 734.2,876.7 C737.7,876.9 742.1,876.8 744.7,877.3 C747.4,877.7 748.3,878.3 750.0,879.4 C751.8,880.4 753.4,883.2 755.3,883.6 C757.3,884.1 759.7,882.9 761.6,882.2 C763.6,881.5 765.2,879.5 766.9,879.5 C768.7,879.5 770.4,880.7 772.2,882.2 C774.0,883.6 775.3,886.5 777.5,888.1 C779.7,889.8 783.2,891.9 785.5,892.1 C787.7,892.3 789.2,890.6 790.8,889.4 C792.3,888.3 793.2,886.4 794.7,885.5 C796.3,884.6 797.8,884.0 800.0,884.2 C802.2,884.3 805.5,886.1 808.0,886.5 C810.4,887.0 812.4,887.0 814.6,886.8 C816.8,886.6 819.0,886.2 821.2,885.5 C823.4,884.7 825.6,883.3 827.8,882.2 C830.0,881.1 832.5,879.2 834.4,878.9 C836.4,878.5 838.0,878.7 839.7,880.2 C841.5,881.6 843.3,885.9 845.0,887.5 C846.8,889.0 848.1,889.6 850.3,889.4 C852.5,889.3 855.4,887.4 858.3,886.8 C861.2,886.2 864.7,886.2 867.6,886.1 C870.4,886.1 874.2,886.5 875.5,886.5" fill="none" stroke="#f00" stroke-width="1.7" stroke-linejoin="round"/>
<text font-family="Liberation Serif, serif" font-size="32.8" x="455.6" y="639.8">Ascent</text>
<text font-family="Liberation Serif, serif" font-size="33.4" x="563.2" y="639.8">Descent</text>
<line x1="488.0" y1="650" x2="488.0" y2="1012" stroke="#000" stroke-width="2" stroke-dasharray="6.7 4.95"/>
<line x1="529.8" y1="650" x2="529.8" y2="1012" stroke="#000" stroke-width="2" stroke-dasharray="6.7 4.95"/>
<line x1="643.4" y1="650" x2="643.4" y2="1012" stroke="#000" stroke-width="2" stroke-dasharray="6.7 4.95"/>
<line x1="502.9" y1="658.5" x2="515.6" y2="658.5" stroke="#000" stroke-width="2.3"/><polygon points="489.5,658.5 502.9,651.8 502.9,665.2" fill="#000"/><polygon points="529,658.5 515.6,651.8 515.6,665.2" fill="#000"/>
<line x1="546.4" y1="658.5" x2="628.6" y2="658.5" stroke="#000" stroke-width="2.3"/><polygon points="533,658.5 546.4,651.8 546.4,665.2" fill="#000"/><polygon points="642,658.5 628.6,651.8 628.6,665.2" fill="#000"/>
<text font-family="Liberation Serif, serif" font-size="34" x="370.3" y="786.3">Flushing</text>
<line x1="442.3" y1="798.9" x2="470.9" y2="831.5" stroke="#000" stroke-width="2.6"/><polygon points="483.8,844.9 466,836 475.7,827.1" fill="#000"/>
</svg>
</body></html>
